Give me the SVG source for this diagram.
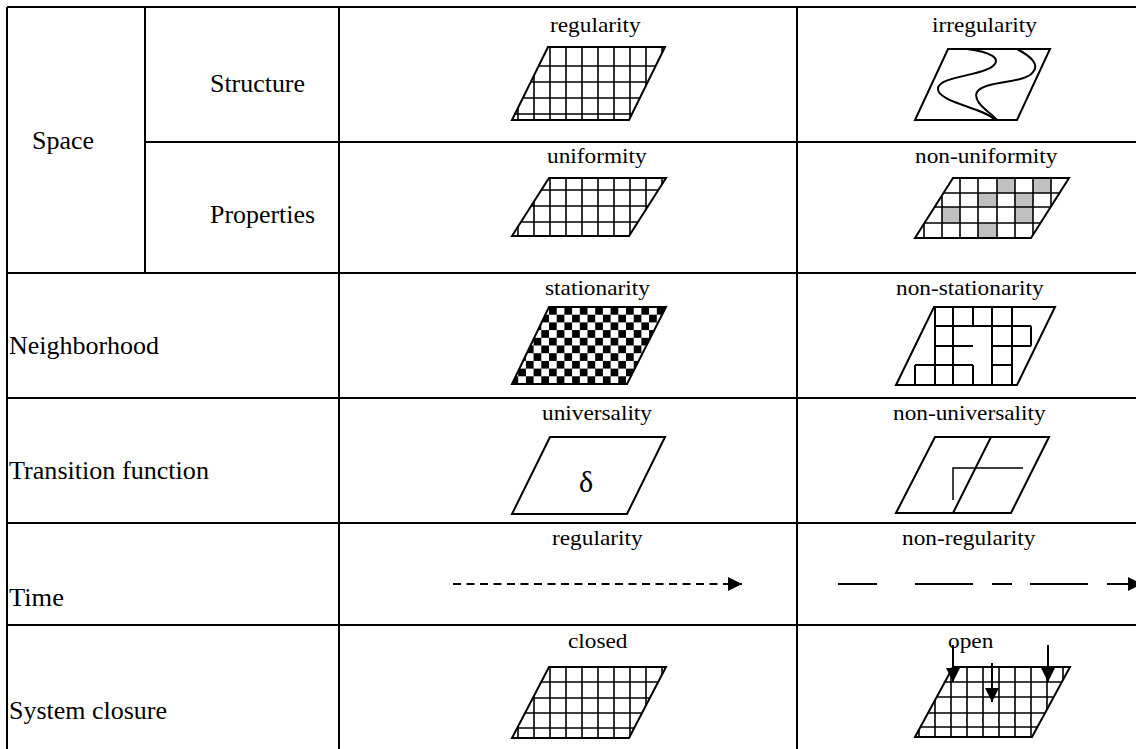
<svg xmlns="http://www.w3.org/2000/svg" width="1136" height="749" viewBox="0 0 1136 749">
<style>
.tbl{stroke:#000;stroke-width:2;fill:none}
.lbl{font-family:'Liberation Serif','Tinos','DejaVu Serif','Times New Roman',serif;font-size:26px;fill:#000}
.cap{font-family:'Liberation Serif','Tinos','DejaVu Serif','Times New Roman',serif;font-size:22px;fill:#000}
.grid{stroke:#000;stroke-width:1.6;fill:none}
.out{stroke:#000;stroke-width:2;fill:none}
.thin{stroke:#000;stroke-width:1.5;fill:none}
.arr{stroke:#000;stroke-width:2;fill:none}
.gray{fill:#c0c0c0}
</style>
<defs>
<marker id="ah" markerUnits="userSpaceOnUse" markerWidth="14" markerHeight="14" refX="14" refY="7" orient="auto">
<path d="M0,0 L14,7 L0,14 Z" fill="#000"/>
</marker>
<pattern id="chk" patternUnits="userSpaceOnUse" x="549" y="307" width="15.4" height="15.4">
<rect width="15.4" height="15.4" fill="#fff"/>
<rect x="0" y="0" width="7.7" height="7.7" fill="#000"/>
<rect x="7.7" y="7.7" width="7.7" height="7.7" fill="#000"/>
</pattern>
<clipPath id="c1"><path d="M548,47 L665,47 L629,120 L512,120 Z"/></clipPath>
<clipPath id="c2"><path d="M549,178 L666,178 L629,236 L512,236 Z"/></clipPath>
<clipPath id="c6"><path d="M549,667 L666,667 L629,738 L512,738 Z"/></clipPath>
<clipPath id="cb2"><path d="M953,178 L1069,178 L1031,238 L915,238 Z"/></clipPath>
<clipPath id="cb6"><path d="M953,667 L1070,667 L1032,737 L915,737 Z"/></clipPath>
</defs>
<rect width="1136" height="749" fill="#fff"/>

<g id="table">
<path class="tbl" d="M7,7 H1140 M7,7 V749 M145,7 V273 M339,7 V749 M797,7 V749 M145,142 H1140 M7,273 H1140 M7,398 H1140 M7,523 H1140 M7,625 H1140"/>
</g>

<g id="row-labels">
<text class="lbl" x="32" y="149" textLength="62" lengthAdjust="spacingAndGlyphs">Space</text>
<text class="lbl" x="210" y="92" textLength="95" lengthAdjust="spacingAndGlyphs">Structure</text>
<text class="lbl" x="210" y="223" textLength="105" lengthAdjust="spacingAndGlyphs">Properties</text>
<text class="lbl" x="9" y="354" textLength="150" lengthAdjust="spacingAndGlyphs">Neighborhood</text>
<text class="lbl" x="9" y="479" textLength="200" lengthAdjust="spacingAndGlyphs">Transition function</text>
<text class="lbl" x="9" y="606" textLength="55" lengthAdjust="spacingAndGlyphs">Time</text>
<text class="lbl" x="9" y="719" textLength="158" lengthAdjust="spacingAndGlyphs">System closure</text>
</g>

<g id="structure-regularity">
<text class="cap" x="550" y="32" textLength="90.6" lengthAdjust="spacingAndGlyphs">regularity</text>
<g clip-path="url(#c1)">
<path class="grid" d="M518,47V120M534,47V120M550,47V120M566,47V120M582,47V120M598,47V120M614,47V120M630,47V120M646,47V120M662,47V120M505,66H670M505,82H670M505,98H670M505,114H670"/>
</g>
<path class="out" d="M548,47 L665,47 L629,120 L512,120 Z"/>
</g>

<g id="structure-irregularity">
<text class="cap" x="932" y="32" textLength="104.8" lengthAdjust="spacingAndGlyphs">irregularity</text>
<path class="out" d="M948,49 L1050,49 L1017,120 L915,120 Z"/>
<path class="out" d="M967,49 C990,52 1002,58 993,66 C982,76 940,76 938,88 C936,102 985,108 995,120"/>
<path class="out" d="M1017,49 C1030,56 1040,64 1033,72 C1025,84 985,80 977,92 C972,102 990,112 997,120"/>
</g>

<g id="properties-uniformity">
<text class="cap" x="547" y="163" textLength="99.7" lengthAdjust="spacingAndGlyphs">uniformity</text>
<g clip-path="url(#c2)">
<path class="grid" d="M518,178V236M534,178V236M550,178V236M566,178V236M582,178V236M598,178V236M614,178V236M630,178V236M646,178V236M662,178V236M505,190H670M505,206H670M505,222H670"/>
</g>
<path class="out" d="M549,178 L666,178 L629,236 L512,236 Z"/>
</g>

<g id="properties-non-uniformity">
<text class="cap" x="915" y="163" textLength="142.4" lengthAdjust="spacingAndGlyphs">non-uniformity</text>
<g clip-path="url(#cb2)">
<rect class="gray" x="997" y="178" width="18" height="15"/>
<rect class="gray" x="1033" y="178" width="18" height="15"/>
<rect class="gray" x="978" y="193" width="19" height="14"/>
<rect class="gray" x="1015" y="193" width="18" height="14"/>
<rect class="gray" x="942" y="207" width="18" height="16"/>
<rect class="gray" x="1015" y="207" width="18" height="16"/>
<rect class="gray" x="978" y="223" width="19" height="15"/>
<path class="grid" d="M924,178V238M942,178V238M960,178V238M978,178V238M997,178V238M1015,178V238M1033,178V238M1051,178V238M910,193H1075M910,207H1075M910,223H1075"/>
</g>
<path class="out" d="M953,178 L1069,178 L1031,238 L915,238 Z"/>
</g>

<g id="neighborhood-stationarity">
<text class="cap" x="545" y="295" textLength="104.9" lengthAdjust="spacingAndGlyphs">stationarity</text>
<path d="M549,307 L666,307 L627,384 L512,384 Z" fill="url(#chk)" stroke="#000" stroke-width="2"/>
</g>

<g id="neighborhood-non-stationarity">
<text class="cap" x="896" y="295" textLength="147.6" lengthAdjust="spacingAndGlyphs">non-stationarity</text>
<path class="out" d="M934,307 L1055,307 L1017,385 L896,385 Z"/>
<path class="out" d="M935,307V385 M953,307V385 M973,307V326 M992,307V385 M1012,307V385 M935,326H1031 M1031,326V346 M935,346H973 M992,346H1031 M935,365H973 M992,365H1012 M915,365H935 M915,365V385 M973,365V385"/>
</g>

<g id="transition-universality">
<text class="cap" x="542" y="420" textLength="110" lengthAdjust="spacingAndGlyphs">universality</text>
<path class="out" d="M550,437 L665,437 L627,514 L512,514 Z"/>
<text x="586" y="492" text-anchor="middle" font-family="'Liberation Serif','Tinos','DejaVu Serif',serif" font-size="30">δ</text>
</g>

<g id="transition-non-universality">
<text class="cap" x="893" y="420" textLength="152.7" lengthAdjust="spacingAndGlyphs">non-universality</text>
<path class="out" d="M935,437 L1049,437 L1011,513 L896,513 Z"/>
<path class="out" d="M991,437 L953,513"/>
<path class="thin" d="M953,500 V468 H1023"/>
</g>

<g id="time-regularity">
<text class="cap" x="552" y="545" textLength="90.6" lengthAdjust="spacingAndGlyphs">regularity</text>
<path d="M453,584 H742" class="arr" stroke-dasharray="8 5.5" marker-end="url(#ah)"/>
</g>

<g id="time-non-regularity">
<text class="cap" x="902" y="545" textLength="133.3" lengthAdjust="spacingAndGlyphs">non-regularity</text>
<path d="M838,584H877 M915,584H973 M992,584H1012 M1030,584H1088" class="arr"/>
<path d="M1107,584H1142" class="arr" marker-end="url(#ah)"/>
</g>

<g id="closure-closed">
<text class="cap" x="568" y="648" textLength="59.5" lengthAdjust="spacingAndGlyphs">closed</text>
<g clip-path="url(#c6)">
<path class="grid" d="M518,667V738M534,667V738M550,667V738M566,667V738M582,667V738M598,667V738M614,667V738M630,667V738M646,667V738M662,667V738M505,682H670M505,698H670M505,713H670M505,728H670"/>
</g>
<path class="out" d="M549,667 L666,667 L629,738 L512,738 Z"/>
</g>

<g id="closure-open">
<text class="cap" x="948" y="648" textLength="45.3" lengthAdjust="spacingAndGlyphs">open</text>
<g clip-path="url(#cb6)">
<path class="grid" d="M919,667V737M935,667V737M951,667V737M967,667V737M983,667V737M999,667V737M1015,667V737M1031,667V737M1047,667V737M1063,667V737M910,682H1075M910,697H1075M910,713H1075M910,727H1075"/>
</g>
<path class="out" d="M953,667 L1070,667 L1032,737 L915,737 Z"/>
<path d="M953,645V682" class="arr" marker-end="url(#ah)"/>
<path d="M992,663V702" class="arr" marker-end="url(#ah)"/>
<path d="M1048,645V682" class="arr" marker-end="url(#ah)"/>
</g>
</svg>
